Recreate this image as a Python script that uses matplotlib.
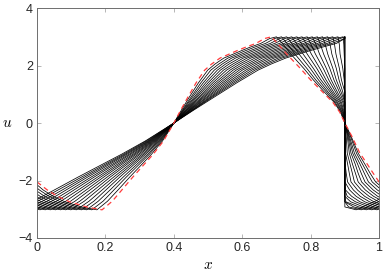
import matplotlib
matplotlib.use("Agg")
import matplotlib.pyplot as plt

# u value carried by each traced point; the three groups are the left part
# (x < 0.4), the hump (0.4 .. 0.9) and the part right of the shock
u_left = [-2.05, -2.33, -2.55, -2.74, -2.92, -3.02, -2.72, -2.30, -1.88, -1.48, -1.08, -0.62, 0.00]
u_mid = [0.45, 0.88, 1.40, 1.84, 2.05, 2.26, 2.52, 2.64, 2.77, 2.94, 3.00, 2.72, 2.40, 1.90, 1.50,
         1.08, 0.72, 0.38]
u_right = [0.00, -0.45, -1.05, -1.42, -1.75, -2.05, -2.33, -2.55, -2.74, -2.92, -3.02, -2.72, -2.30]

# red dashed curve
x_red = [0.000, 0.030, 0.060, 0.095, 0.145, 0.190, 0.220, 0.250, 0.280, 0.310, 0.340, 0.370, 0.400,
         0.420, 0.440, 0.465, 0.490, 0.510, 0.535, 0.585, 0.610, 0.640, 0.665, 0.685, 0.707, 0.730,
         0.770, 0.800, 0.835, 0.865, 0.885,
         0.900, 0.920, 0.944, 0.965, 0.983, 1.000, 1.030, 1.060, 1.095, 1.145, 1.190, 1.220, 1.250]

# black curves (earliest first), x of each point
x_left = [
    [-0.010, 0.018, 0.047, 0.081, 0.130, 0.175, 0.206, 0.239, 0.271, 0.303, 0.335, 0.367, 0.400],
    [-0.021, 0.007, 0.035, 0.068, 0.116, 0.160, 0.193, 0.227, 0.261, 0.295, 0.329, 0.364, 0.400],
    [-0.031, -0.005, 0.022, 0.054, 0.101, 0.145, 0.179, 0.216, 0.252, 0.288, 0.324, 0.361, 0.400],
    [-0.041, -0.017, 0.009, 0.040, 0.087, 0.130, 0.166, 0.204, 0.242, 0.280, 0.318, 0.358, 0.400],
    [-0.051, -0.028, -0.004, 0.027, 0.072, 0.115, 0.152, 0.193, 0.233, 0.273, 0.313, 0.355, 0.400],
    [-0.062, -0.040, -0.017, 0.013, 0.057, 0.099, 0.138, 0.181, 0.224, 0.266, 0.308, 0.351, 0.400],
    [-0.072, -0.052, -0.029, -0.001, 0.043, 0.084, 0.125, 0.170, 0.214, 0.258, 0.302, 0.348, 0.400],
    [-0.082, -0.063, -0.042, -0.015, 0.028, 0.069, 0.111, 0.158, 0.205, 0.251, 0.297, 0.345, 0.400],
    [-0.092, -0.075, -0.055, -0.028, 0.014, 0.054, 0.098, 0.147, 0.195, 0.243, 0.291, 0.342, 0.400],
    [-0.103, -0.087, -0.068, -0.042, -0.001, 0.039, 0.084, 0.135, 0.186, 0.236, 0.286, 0.339, 0.400],
    [-0.113, -0.098, -0.080, -0.056, -0.016, 0.024, 0.070, 0.124, 0.177, 0.229, 0.281, 0.336, 0.400],
    [-0.123, -0.110, -0.093, -0.069, -0.030, 0.009, 0.057, 0.112, 0.167, 0.221, 0.275, 0.333, 0.400],
    [-0.133, -0.121, -0.106, -0.083, -0.045, -0.006, 0.043, 0.101, 0.158, 0.214, 0.270, 0.330, 0.400],
    [-0.144, -0.133, -0.119, -0.097, -0.059, -0.021, 0.030, 0.089, 0.148, 0.206, 0.264, 0.327, 0.400],
    [-0.154, -0.145, -0.131, -0.111, -0.074, -0.037, 0.016, 0.078, 0.139, 0.199, 0.259, 0.324, 0.400],
    [-0.164, -0.156, -0.144, -0.124, -0.089, -0.052, 0.002, 0.066, 0.130, 0.192, 0.254, 0.320, 0.400],
    [-0.174, -0.168, -0.157, -0.138, -0.103, -0.067, -0.011, 0.055, 0.120, 0.184, 0.248, 0.317, 0.400],
]
x_mid = [
    [0.422, 0.444, 0.472, 0.499, 0.520, 0.546, 0.598, 0.623, 0.654, 0.680, 0.700, 0.721, 0.742, 0.780, 0.808, 0.840, 0.869, 0.887],
    [0.425, 0.449, 0.479, 0.508, 0.531, 0.558, 0.610, 0.636, 0.668, 0.694, 0.715, 0.734, 0.754, 0.789, 0.815, 0.846, 0.872, 0.889],
    [0.427, 0.453, 0.486, 0.518, 0.541, 0.569, 0.623, 0.650, 0.682, 0.709, 0.730, 0.748, 0.766, 0.799, 0.823, 0.851, 0.876, 0.891],
    [0.429, 0.458, 0.493, 0.527, 0.551, 0.580, 0.635, 0.663, 0.695, 0.724, 0.745, 0.761, 0.778, 0.808, 0.830, 0.857, 0.879, 0.893],
    [0.431, 0.462, 0.500, 0.536, 0.561, 0.592, 0.648, 0.676, 0.709, 0.739, 0.760, 0.775, 0.790, 0.818, 0.838, 0.862, 0.883, 0.895],
    [0.434, 0.466, 0.507, 0.545, 0.572, 0.603, 0.661, 0.689, 0.723, 0.753, 0.775, 0.789, 0.802, 0.827, 0.845, 0.867, 0.887, 0.896],
    [0.436, 0.471, 0.514, 0.554, 0.582, 0.614, 0.673, 0.702, 0.737, 0.768, 0.790, 0.802, 0.814, 0.837, 0.853, 0.873, 0.890, 0.898],
    [0.438, 0.475, 0.521, 0.564, 0.592, 0.625, 0.686, 0.716, 0.751, 0.783, 0.805, 0.816, 0.826, 0.846, 0.860, 0.878, 0.894, 0.900],
    [0.440, 0.480, 0.528, 0.573, 0.602, 0.637, 0.698, 0.729, 0.765, 0.797, 0.820, 0.829, 0.838, 0.856, 0.868, 0.884, 0.897, 0.900],
    [0.443, 0.484, 0.535, 0.582, 0.613, 0.648, 0.711, 0.742, 0.779, 0.812, 0.835, 0.843, 0.850, 0.865, 0.875, 0.889, 0.900, 0.900],
    [0.445, 0.488, 0.542, 0.591, 0.623, 0.659, 0.724, 0.755, 0.792, 0.827, 0.850, 0.857, 0.862, 0.875, 0.883, 0.894, 0.900, 0.900],
    [0.447, 0.493, 0.549, 0.600, 0.633, 0.671, 0.736, 0.768, 0.806, 0.841, 0.865, 0.870, 0.874, 0.884, 0.890, 0.900, 0.900, 0.900],
    [0.449, 0.497, 0.556, 0.610, 0.643, 0.682, 0.749, 0.782, 0.820, 0.856, 0.880, 0.884, 0.886, 0.894, 0.898, 0.900, 0.900, 0.900],
    [0.452, 0.502, 0.563, 0.619, 0.654, 0.693, 0.761, 0.795, 0.834, 0.871, 0.895, 0.897, 0.898, 0.900, 0.900, 0.900, 0.900, 0.900],
    [0.454, 0.506, 0.570, 0.628, 0.664, 0.705, 0.774, 0.808, 0.848, 0.886, 0.900, 0.900, 0.900, 0.900, 0.900, 0.900, 0.900, 0.900],
    [0.456, 0.510, 0.577, 0.637, 0.674, 0.716, 0.787, 0.821, 0.862, 0.900, 0.900, 0.900, 0.900, 0.900, 0.900, 0.900, 0.900, 0.900],
    [0.458, 0.515, 0.584, 0.646, 0.684, 0.727, 0.799, 0.834, 0.875, 0.900, 0.900, 0.900, 0.900, 0.900, 0.900, 0.900, 0.900, 0.900],
]
x_right = [
    [0.900, 0.918, 0.939, 0.958, 0.974, 0.990, 1.018, 1.047, 1.081, 1.130, 1.175, 1.206, 1.239],
    [0.900, 0.916, 0.934, 0.951, 0.966, 0.980, 1.007, 1.035, 1.068, 1.116, 1.160, 1.193, 1.227],
    [0.900, 0.913, 0.928, 0.944, 0.957, 0.969, 0.995, 1.022, 1.054, 1.101, 1.145, 1.179, 1.216],
    [0.900, 0.911, 0.923, 0.937, 0.948, 0.959, 0.983, 1.009, 1.040, 1.087, 1.130, 1.166, 1.204],
    [0.900, 0.909, 0.918, 0.930, 0.939, 0.949, 0.972, 0.996, 1.027, 1.072, 1.115, 1.152, 1.193],
    [0.900, 0.907, 0.913, 0.922, 0.931, 0.939, 0.960, 0.984, 1.013, 1.057, 1.099, 1.138, 1.181],
    [0.900, 0.904, 0.907, 0.915, 0.922, 0.928, 0.948, 0.971, 0.999, 1.043, 1.084, 1.125, 1.170],
    [0.900, 0.902, 0.902, 0.908, 0.913, 0.918, 0.937, 0.958, 0.985, 1.028, 1.069, 1.111, 1.158],
    [0.900, 0.900, 0.900, 0.901, 0.904, 0.908, 0.925, 0.945, 0.972, 1.014, 1.054, 1.098, 1.147],
    [0.900, 0.900, 0.900, 0.900, 0.900, 0.900, 0.914, 0.933, 0.958, 0.999, 1.039, 1.084, 1.135],
    [0.900, 0.900, 0.900, 0.900, 0.900, 0.900, 0.902, 0.920, 0.944, 0.984, 1.024, 1.070, 1.124],
    [0.900, 0.900, 0.900, 0.900, 0.900, 0.900, 0.900, 0.907, 0.931, 0.970, 1.009, 1.057, 1.112],
    [0.900, 0.900, 0.900, 0.900, 0.900, 0.900, 0.900, 0.900, 0.917, 0.955, 0.994, 1.043, 1.101],
    [0.900, 0.900, 0.900, 0.900, 0.900, 0.900, 0.900, 0.900, 0.903, 0.941, 0.979, 1.030, 1.089],
    [0.900, 0.900, 0.900, 0.900, 0.900, 0.900, 0.900, 0.900, 0.900, 0.926, 0.963, 1.016, 1.078],
    [0.900, 0.900, 0.900, 0.900, 0.900, 0.900, 0.900, 0.900, 0.900, 0.911, 0.948, 1.002, 1.066],
    [0.900, 0.900, 0.900, 0.900, 0.900, 0.900, 0.900, 0.900, 0.900, 0.900, 0.933, 0.989, 1.055],
]

x_ticks = [0, 0.2, 0.4, 0.6, 0.8, 1]
x_ticklabels = ["0", "0.2", "0.4", "0.6", "0.8", "1"]
y_ticks = [-4, -2, 0, 2, 4]

plt.rcParams["font.family"] = ["Liberation Sans", "DejaVu Sans"]
plt.rcParams["mathtext.fontset"] = "cm"

fig = plt.figure(figsize=(3.86, 2.79), dpi=100)
ax = fig.add_axes([0.096, 0.147, 0.886, 0.824])

u_pts = u_left + u_mid + u_right
for xl, xm, xr in zip(x_left, x_mid, x_right):
    ax.plot(xl + xm + xr, u_pts, color="black", lw=0.55)
ax.plot(x_red, u_pts, color="#ff3b3b", lw=0.9, dashes=(4, 3))

ax.set_xlim(0, 1)
ax.set_ylim(-4, 4)
ax.set_xticks(x_ticks)
ax.set_xticklabels(x_ticklabels)
ax.set_yticks(y_ticks)
ax.tick_params(direction="in", top=True, right=True, length=3, width=0.5,
               color="#999999", labelsize=9, labelcolor="#262626", pad=3)
for s in ax.spines.values():
    s.set_color("#6e6e6e")
    s.set_linewidth(0.7)

ax.set_xlabel("$x$", fontsize=11, labelpad=3)
ax.set_ylabel("$u$", fontsize=11, rotation=0, labelpad=8, va="center")

fig.savefig("out.png", dpi=100)
